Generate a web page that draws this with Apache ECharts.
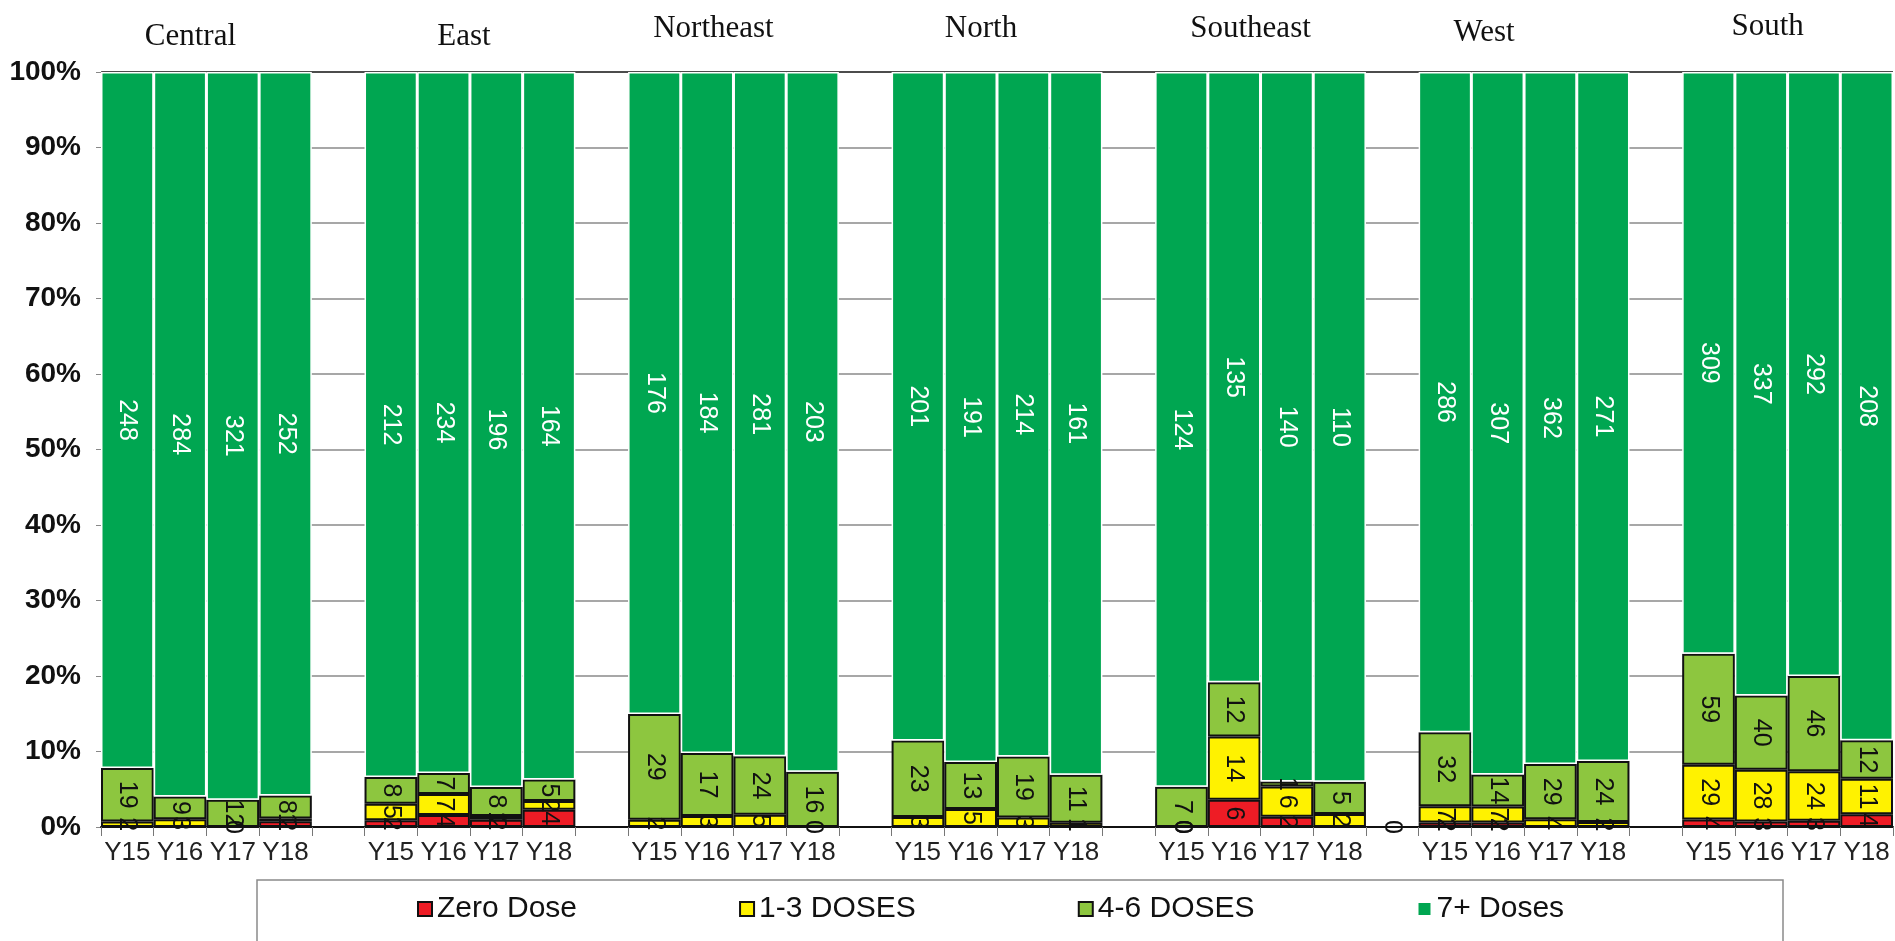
<!DOCTYPE html>
<html>
<head>
<meta charset="utf-8">
<script src="https://cdn.jsdelivr.net/npm/echarts@6/dist/echarts.min.js"></script>
<style>
html,body{margin:0;padding:0;background:#fff;}
#chart{width:1895px;height:941px;}
</style>
</head>
<body>
<div id="chart"></div>
<script>
// ---- data (counts); null = no value shown ----
const groups = ['Central', 'East', 'Northeast', 'North', 'Southeast', 'West', 'South'];
const years = ['Y15', 'Y16', 'Y17', 'Y18'];
const seriesNames = ['Zero Dose', '1-3 DOSES', '4-6 DOSES', '7+ Doses'];

const zeroDose = [
  null, null, null, 2,
  2, 4, 2, 4,
  null, null, null, null,
  null, null, null, null,
  0, 6, 2, null,
  2, 2, null, null,
  4, 3, 3, 4
];
const oneToThree = [
  2, 3, 0, 1,
  5, 7, 1, 2,
  2, 3, 5, 0,
  3, 5, 3, 1,
  0, 14, 6, 2,
  7, 7, 4, 2,
  29, 28, 24, 11
];
const fourToSix = [
  19, 9, 12, 8,
  8, 7, 8, 5,
  29, 17, 24, 16,
  23, 13, 19, 11,
  7, 12, 1, 5,
  32, 14, 29, 24,
  59, 40, 46, 12
];
const sevenPlus = [
  248, 284, 321, 252,
  212, 234, 196, 164,
  176, 184, 281, 203,
  201, 191, 214, 161,
  124, 135, 140, 110,
  286, 307, 362, 271,
  309, 337, 292, 208
];
// stray zero-dose value printed in the spacer columns (after each group)
const gapZeroDose = [null, null, null, null, 0, null];

const yTicks = [0, 10, 20, 30, 40, 50, 60, 70, 80, 90, 100];

// ---- build the 100%-stacked table ----
const raw = [zeroDose, oneToThree, fourToSix, sevenPlus];
const categories = [];
const cols = [];
groups.forEach((g, gi) => {
  years.forEach((y, yi) => {
    categories.push(y);
    cols.push(raw.map(arr => arr[gi * 4 + yi]));
  });
  if (gi < groups.length - 1) {
    categories.push('');
    cols.push([gapZeroDose[gi], null, null, null]);
  }
});

const colors = ['#EE1C25', '#FFF200', '#8DC63F', '#00A651'];
const borders = ['#111', '#111', '#111', '#ffffff'];
const labelColors = ['#111', '#111', '#111', '#ffffff'];

const series = seriesNames.map((name, si) => ({
  name: name,
  type: 'bar',
  stack: 'total',
  barCategoryGap: '0%',
  barWidth: '100%',
  itemStyle: { color: colors[si], borderColor: borders[si], borderWidth: si === 3 ? 1.5 : 2 },
  label: {
    show: true,
    position: 'inside',
    rotate: -90,
    align: 'center',
    verticalAlign: 'middle',
    fontFamily: 'Liberation Sans, Arial, sans-serif',
    fontSize: 25,
    color: labelColors[si],
    formatter: p => (p.data && p.data.count != null) ? String(p.data.count) : ''
  },
  emphasis: { disabled: true },
  data: cols.map(c => {
    const n = c[si];
    if (n == null) return '-';
    const total = c.reduce((s, v) => s + (v || 0), 0);
    return { value: total > 0 ? n / total * 100 : 0, count: n };
  })
}));

const chart = echarts.init(document.getElementById('chart'), null, { renderer: 'canvas' });
const splitColors = yTicks.map(t => t === 100 ? '#111' : '#8a8a8a');

chart.setOption({
  animation: false,
  backgroundColor: '#ffffff',
  color: colors,
  grid: { left: 101, right: 2, top: 72, bottom: 114, containLabel: false },
  legend: {
    data: seriesNames,
    left: 412,
    top: 889,
    itemWidth: 14,
    itemHeight: 14,
    itemGap: 162,
    icon: 'rect',
    textStyle: { fontFamily: 'Liberation Sans, Arial, sans-serif', fontSize: 30, color: '#111' }
  },
  xAxis: {
    type: 'category',
    data: categories,
    axisLine: { show: true, lineStyle: { color: '#111', width: 2 } },
    axisTick: { show: true, interval: 0, length: 9, lineStyle: { color: '#777' } },
    axisLabel: { interval: 0, fontFamily: 'Liberation Sans, Arial, sans-serif', fontSize: 26, color: '#222', margin: 13 },
    z: 3
  },
  yAxis: {
    type: 'value',
    min: 0,
    max: 100,
    interval: 10,
    axisLine: { show: true, lineStyle: { color: '#888' } },
    axisTick: { show: true, length: 5, lineStyle: { color: '#888' } },
    axisLabel: { formatter: '{value}%', fontFamily: 'Liberation Sans, Arial, sans-serif', fontWeight: 'bold', fontSize: 28, color: '#111', margin: 20 },
    splitLine: { show: true, lineStyle: { color: splitColors, width: 1.5 } }
  },
  series: series
});

// group titles + legend box
const titleDx = [-16, -6, -20, -16, -10, -40, -20];
const titleY = [37, 37, 29, 29, 29, 33, 27];
const graphics = [];
const px = v => { const r = chart.convertToPixel({ xAxisIndex: 0 }, v); return Array.isArray(r) ? r[0] : r; };
groups.forEach((g, gi) => {
  const start = gi * 5;
  const cx = (px(start) + px(start + 3)) / 2;
  graphics.push({
    type: 'text',
    x: cx + titleDx[gi],
    y: titleY[gi],
    style: {
      text: g,
      fontFamily: 'Liberation Serif, Times New Roman, serif',
      fontSize: 31,
      fill: '#111',
      align: 'center',
      verticalAlign: 'middle'
    }
  });
});
graphics.push({
  type: 'rect',
  z: -1,
  shape: { x: 257, y: 880, width: 1526, height: 90 },
  style: { fill: '#fff', stroke: '#8a8a8a', lineWidth: 1.5 }
});
chart.setOption({ graphic: graphics });
</script>
</body>
</html>
